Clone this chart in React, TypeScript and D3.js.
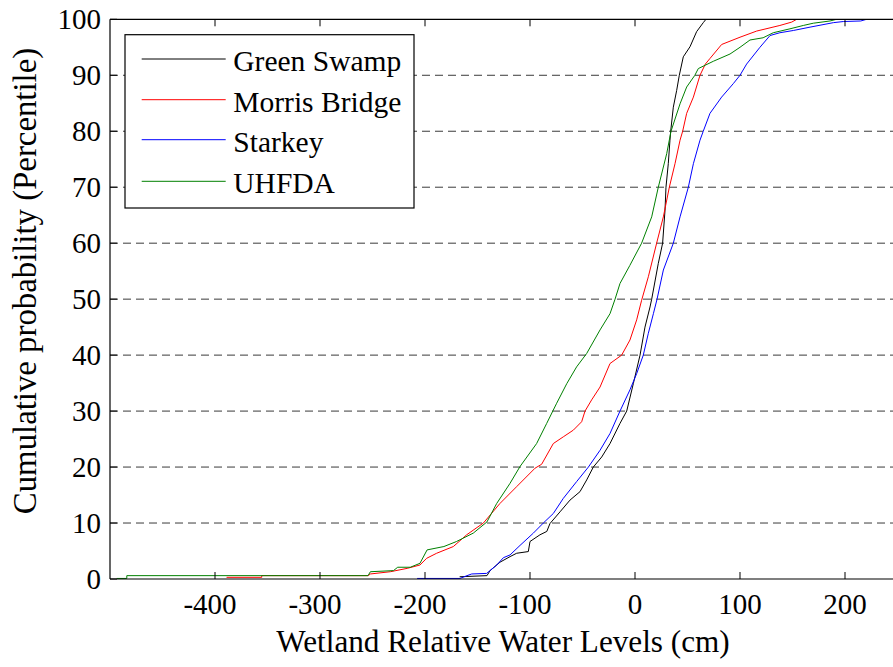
import React from "react";
import * as d3 from "d3";

// ---------- data (x = water level cm, p = cumulative percentile) ----------
const greenSwampX = [-167, -141, -138, -128.6, -119, -112.7, -101.6, -100, -90.5, -84, -81, -71.4, -61.9, -52.4, -46, -39.7, -31.7, -23.8, -14.3, -7.9, -1.6, 4.8, 9.5, 14.3, 15.9, 22.2, 26.3, 28.6, 29.5, 31.7, 33.3, 34, 36.5, 39.7, 42.2, 46, 52.4, 58.7, 65, 67.6];
const greenSwampP = [0.4, 0.6, 1.5, 3, 4, 4.6, 4.9, 6.7, 7.9, 8.5, 9.9, 12, 14.1, 15.6, 17.7, 20, 21.8, 24.2, 27.8, 30, 34.9, 40, 45, 48.6, 50, 56.4, 60, 65.9, 70, 74.2, 78.4, 80, 84.3, 87.3, 90, 93.3, 95.1, 97.8, 99.4, 100];

const morrisX = [-389, -355.5, -355.5, -254, -252, -233, -217, -204.8, -198.4, -188.9, -173, -160.3, -144.4, -128.6, -112.7, -95.2, -88.9, -77.8, -68.3, -58.7, -50.8, -47.6, -41.3, -33.3, -23.8, -12.7, -4.8, 1.6, 6.3, 12.7, 20.6, 27, 32.7, 38.1, 42.9, 45.4, 49.2, 55.6, 61.9, 67, 71.4, 82.5, 100, 115.9, 138, 149.2, 154];
const morrisP = [0.3, 0.3, 0.6, 0.6, 0.9, 1.3, 1.9, 2.5, 3.7, 4.6, 5.8, 7.9, 10, 13.5, 16.5, 19.8, 20.5, 24.2, 25.4, 26.6, 28.1, 30, 32, 34.3, 38.5, 40, 42.7, 46.3, 49.8, 54, 60, 64.7, 70, 74.2, 78.4, 80, 83.2, 86.1, 90, 92, 93, 95.5, 96.8, 97.9, 98.9, 99.5, 100];

const starkeyX = [-207.5, -166.7, -160, -155.5, -141.3, -131.7, -125.4, -119, -109.5, -96.8, -87.3, -77.8, -68.3, -55.6, -44.4, -33.3, -23.8, -14.3, -4.8, 1.6, 7.9, 12.7, 17.5, 21, 27, 36.5, 42.9, 50.8, 55.6, 61.9, 65, 71.4, 82.5, 93.6, 100, 106.3, 119, 128.6, 138, 150.8, 166.7, 188.9, 198.4, 215, 220.6, 250];
const starkeyP = [0.1, 0.1, 0.6, 0.9, 1, 2.5, 3.8, 4.3, 6, 8.2, 10, 11.7, 14.4, 17.4, 20, 23, 26, 30, 33.8, 36.7, 40, 43.9, 47.4, 50, 55.2, 60, 64.7, 70, 74.2, 78.4, 80, 83.2, 86.1, 88.5, 90, 92, 95, 97.1, 97.6, 98, 98.6, 99.4, 99.6, 99.7, 100, 100];

const uhfdaX = [-493.6, -484, -484, -254.3, -252, -230, -226, -214, -204.8, -198, -182, -170, -154, -141, -131.7, -119, -109.5, -93.7, -84.1, -74.6, -65, -55.6, -46, -33.3, -23.8, -19, -14.3, -5, 6.3, 15.9, 22.2, 30.2, 34.3, 42.9, 49.2, 57, 60.3, 74.6, 90.5, 100, 109.5, 122, 131.7, 147.6, 160.3, 169.8, 185.7, 192];
const uhfdaP = [0.1, 0.1, 0.6, 0.6, 1.3, 1.5, 2.1, 2.1, 2.8, 5.2, 5.8, 6.7, 8.2, 10.2, 13.5, 17.1, 20.1, 24.2, 27.8, 31.4, 34.9, 37.9, 40.3, 44.5, 47.4, 50, 52.8, 56, 60, 64.7, 70, 76, 80, 84.9, 87.9, 90, 91.2, 92.5, 93.8, 95, 96.3, 96.7, 97.6, 98.3, 98.9, 99.3, 99.7, 100];

const seriesNames = ["Green Swamp", "Morris Bridge", "Starkey", "UHFDA"];
const seriesColors = ["#000000", "#ff0000", "#0000ff", "#008000"];
const seriesX = [greenSwampX, morrisX, starkeyX, uhfdaX];
const seriesP = [greenSwampP, morrisP, starkeyP, uhfdaP];

const xTicks = [-400, -300, -200, -100, 0, 100, 200];
const yTicks = [0, 10, 20, 30, 40, 50, 60, 70, 80, 90, 100];
const gridTicks = [10, 20, 30, 40, 50, 60, 70, 80, 90];

const xLabel = "Wetland Relative Water Levels (cm)";
const yLabel = "Cumulative probability (Percentile)";

const FONT = '"Liberation Serif", "DejaVu Serif", serif';

export default function App() {
  const W = 893;
  const H = 667;
  const left = 110;
  const right = 897.5;
  const top = 19.3;
  const bottom = 579;
  const x = d3.scaleLinear().domain([-500, 250]).range([left, right]);
  const y = d3.scaleLinear().domain([0, 100]).range([bottom, top]);
  const line = d3
    .line<[number, number]>()
    .x((d) => x(d[0]))
    .y((d) => y(d[1]));
  const tickLen = 7;
  const ts = { fontFamily: FONT };

  const legend = { x0: 125, y0: 34.7, x1: 414, y1: 208 };
  const legendRows = [59, 99.7, 139.7, 181.3];

  return (
    <svg
      width={W}
      height={H}
      style={{ position: "absolute", left: 0, top: 0, background: "#fff", fontFamily: FONT }}
    >
      <defs>
        <clipPath id="plotclip">
          <rect x={left} y={top} width={right - left} height={bottom - top} />
        </clipPath>
      </defs>
      <rect x={0} y={0} width={W} height={H} fill="#fff" />
      {/* grid */}
      {gridTicks.map((t) => (
        <line
          key={"g" + t}
          x1={left}
          x2={right}
          y1={y(t)}
          y2={y(t)}
          stroke="#3a3a3a"
          strokeWidth={1}
          strokeDasharray="8,5"
        />
      ))}
      {/* series */}
      <g clipPath="url(#plotclip)">
        {seriesX.map((xs, i) => (
          <path
            key={seriesNames[i]}
            d={line(xs.map((v, j) => [v, seriesP[i][j]] as [number, number])) || ""}
            fill="none"
            stroke={seriesColors[i]}
            strokeWidth={1}
          />
        ))}
      </g>
      {/* axes box */}
      <line x1={left} x2={right} y1={bottom} y2={bottom} stroke="#000" strokeWidth={1.2} />
      <line x1={left} x2={right} y1={top} y2={top} stroke="#000" strokeWidth={1.2} />
      <line x1={left} x2={left} y1={top} y2={bottom} stroke="#000" strokeWidth={1.2} />
      {xTicks.map((t) => (
        <g key={"xt" + t}>
          <line x1={x(t)} x2={x(t)} y1={bottom} y2={bottom - tickLen} stroke="#000" />
          <line x1={x(t)} x2={x(t)} y1={top} y2={top + tickLen} stroke="#000" />
          <text
            x={x(t) + (t < 0 ? -5 : 0)}
            y={613.5}
            fontSize={29}
            textAnchor="middle"
            fill="#000"
            style={ts}
          >
            {t}
          </text>
        </g>
      ))}
      {yTicks.map((t) => (
        <g key={"yt" + t}>
          <line x1={left} x2={left + tickLen} y1={y(t)} y2={y(t)} stroke="#000" />
          <text x={101} y={y(t) + 10} fontSize={29} textAnchor="end" fill="#000" style={ts}>
            {t}
          </text>
        </g>
      ))}
      {/* axis labels */}
      <text x={503} y={651.5} fontSize={31.2} textAnchor="middle" fill="#000" style={ts}>
        {xLabel}
      </text>
      <text
        transform={`translate(36,281) rotate(-90)`}
        fontSize={32.8}
        textAnchor="middle"
        fill="#000"
        style={ts}
      >
        {yLabel}
      </text>
      {/* legend */}
      <rect
        x={legend.x0}
        y={legend.y0}
        width={legend.x1 - legend.x0}
        height={legend.y1 - legend.y0}
        fill="#fff"
        stroke="#000"
        strokeWidth={1.2}
      />
      {seriesNames.map((n, i) => (
        <g key={"lg" + n}>
          <line
            x1={141.7}
            x2={225.7}
            y1={legendRows[i]}
            y2={legendRows[i]}
            stroke={seriesColors[i]}
            strokeWidth={1}
          />
          <text x={233.3} y={legendRows[i] + 12} fontSize={29.5} fill="#000" style={ts}>
            {n}
          </text>
        </g>
      ))}
    </svg>
  );
}
